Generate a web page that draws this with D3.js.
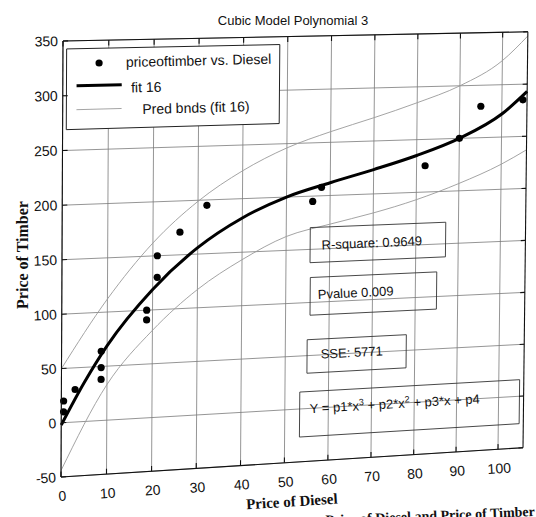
<!DOCTYPE html>
<html>
<head>
<meta charset="utf-8">
<script src="https://cdn.jsdelivr.net/npm/d3@7"></script>
<style>
  body { margin: 0; background: #fff; }
  text { font-family: "Liberation Sans", Arial, sans-serif; fill: #111; }
  .serif { font-family: "Liberation Serif", "Times New Roman", serif; font-weight: bold; }
</style>
</head>
<body>
<svg width="536" height="517"></svg>
<script>
// Values
const dieselPrice = [0.5, 0.5, 3, 8.7, 8.7, 8.7, 18.7, 18.7, 21, 21, 26, 32, 56, 58, 82, 90, 95, 105];
const timberPrice = [20, 10, 30, 64, 49, 38, 100, 91, 150, 130, 171, 195, 195, 208, 225, 250, 280, 285];

// fitted cubic (fit 16) and its prediction bounds
const fitX = [0, 5, 10, 20, 30, 40, 50, 60, 70, 80, 90, 100, 106];
const fitY = [-2, 36, 69, 119, 156, 182, 200, 212, 223, 235, 250, 272, 293];
const upperX = [0, 10, 20, 30, 40, 50, 60, 70, 80, 90, 100, 106];
const upperY = [50, 112, 162, 199, 226, 246, 260, 272, 285, 300, 323, 346];
const lowerX = [0, 10, 20, 30, 40, 50, 60, 70, 80, 90, 100, 106];
const lowerY = [-44, 33, 81, 117, 143, 163, 173, 182, 193, 207, 224, 237];

const xTicks = [0, 10, 20, 30, 40, 50, 60, 70, 80, 90, 100];
const yTicks = [-50, 0, 50, 100, 150, 200, 250, 300, 350];

const legendLabels = ['priceoftimber vs. Diesel', 'fit 16', 'Pred bnds (fit 16)'];
const statLabels = ['R-square: 0.9649', 'Pvalue 0.009', 'SSE: 5771'];

const svg = d3.select('svg');

// The figure was photographed at a slant, so the unit square of the axes
// is mapped onto the four measured corners of the printed plot box.
function squareToQuad(q)
{
    const [[x0, y0], [x1, y1], [x2, y2], [x3, y3]] = q;
    const dx1 = x1 - x2, dx2 = x3 - x2, dx3 = x0 - x1 + x2 - x3;
    const dy1 = y1 - y2, dy2 = y3 - y2, dy3 = y0 - y1 + y2 - y3;
    const den = dx1 * dy2 - dx2 * dy1;
    const g = (dx3 * dy2 - dx2 * dy3) / den;
    const h = (dx1 * dy3 - dx3 * dy1) / den;
    const a = x1 - x0 + g * x1, b = x3 - x0 + h * x3, c = x0;
    const d = y1 - y0 + g * y1, e = y3 - y0 + h * y3, f = y0;
    return function(u, v)
    {
        const w = g * u + h * v + 1;
        return [(a * u + b * v + c) / w, (d * u + e * v + f) / w];
    };
}

const xMax = 106;
const x = d3.scaleLinear().domain([0, 100]).range([0, 1]);
const y = d3.scaleLinear().domain([-50, 350]).range([0, 1]);
const warp = squareToQuad([[61, 477], [498, 449.3], [502.7, 32.3], [63, 41]]);
const P = (dx, dy) => warp(x(dx), y(dy));

function angleAt(dx, dy)
{
    const p = P(dx, dy), q = P(dx + 1, dy);
    return Math.atan2(q[1] - p[1], q[0] - p[0]) * 180 / Math.PI;
}

function place(dx, dy)
{
    const p = P(dx, dy);
    return 'translate(' + p[0] + ',' + p[1] + ') rotate(' + angleAt(dx, dy) + ')';
}

function seg(g, a, b)
{
    const p = P(a[0], a[1]), q = P(b[0], b[1]);
    return g.append('line')
        .attr('x1', p[0]).attr('y1', p[1])
        .attr('x2', q[0]).attr('y2', q[1]);
}

function quadPath(x0, x1, y0, y1)
{
    return 'M' + [P(x0, y0), P(x1, y0), P(x1, y1), P(x0, y1)].join('L') + 'Z';
}

// Grid
const grid = svg.append('g')
    .attr('stroke', '#7a7a7a')
    .attr('stroke-width', 0.8);
xTicks.forEach(t => seg(grid, [t, -50], [t, 350]));
yTicks.forEach(t => seg(grid, [0, t], [xMax, t]));

// Prediction bounds and fit
const line = d3.line().curve(d3.curveMonotoneX);

svg.append('path')
    .attr('d', line(upperX.map((v, i) => P(v, upperY[i]))))
    .attr('fill', 'none')
    .attr('stroke', '#9a9a9a')
    .attr('stroke-width', 0.9);

svg.append('path')
    .attr('d', line(lowerX.map((v, i) => P(v, lowerY[i]))))
    .attr('fill', 'none')
    .attr('stroke', '#9a9a9a')
    .attr('stroke-width', 0.9);

svg.append('path')
    .attr('d', line(fitX.map((v, i) => P(v, fitY[i]))))
    .attr('fill', 'none')
    .attr('stroke', '#000')
    .attr('stroke-width', 3);

svg.append('g')
    .selectAll('circle')
    .data(dieselPrice)
    .enter().append('circle')
    .attr('cx', (d, i) => P(d, timberPrice[i])[0])
    .attr('cy', (d, i) => P(d, timberPrice[i])[1])
    .attr('r', 3.6)
    .attr('fill', '#000');

// Text boxes with the goodness-of-fit numbers (no fill, grid shows through)
const boxes = [
    {x0: 55.5, x1: 87, y0: 137.5, y1: 170.5, tx: 58.2, ty: 149.5},
    {x0: 55.6, x1: 85, y0: 88, y1: 123.5, tx: 57.4, ty: 103},
    {x0: 55, x1: 78, y0: 33.4, y1: 65, tx: 58.2, ty: 46.5}
];

const notes = svg.append('g');
boxes.forEach(function(b, i)
{
    notes.append('path')
        .attr('d', quadPath(b.x0, b.x1, b.y0, b.y1))
        .attr('fill', 'none')
        .attr('stroke', '#333')
        .attr('stroke-width', 0.9);
    notes.append('text')
        .attr('transform', place(b.tx, b.ty))
        .style('font-size', '13px')
        .text(statLabels[i]);
});

notes.append('path')
    .attr('d', quadPath(53.4, 105, -26.5, 16))
    .attr('fill', 'none')
    .attr('stroke', '#333')
    .attr('stroke-width', 0.9);

const eq = notes.append('text')
    .attr('transform', place(55.8, -4.5))
    .style('font-size', '13px');
[['Y = p1*x', 0], ['3', -5], [' + p2*x', 5], ['2', -5], [' + p3*x + p4', 5]].forEach(function(part)
{
    eq.append('tspan')
        .attr('dy', part[1])
        .style('font-size', part[0].length == 1 ? '9px' : '13px')
        .text(part[0]);
});

// Legend
const legend = svg.append('g');
legend.append('path')
    .attr('d', quadPath(0.8, 48.2, 269, 342.7))
    .attr('fill', '#fff')
    .attr('stroke', '#222')
    .attr('stroke-width', 1);

const dot = P(7.9, 329.2);
legend.append('circle')
    .attr('cx', dot[0]).attr('cy', dot[1])
    .attr('r', 3.6)
    .attr('fill', '#000');
seg(legend, [3, 308.8], [12.9, 308.8])
    .attr('stroke', '#000')
    .attr('stroke-width', 3);
seg(legend, [3, 287], [12.9, 287])
    .attr('stroke', '#9a9a9a')
    .attr('stroke-width', 0.9);

[[13.8, 325], [15, 301.5], [17.5, 281.4]].forEach(function(pos, i)
{
    legend.append('text')
        .attr('transform', place(pos[0], pos[1]))
        .style('font-size', '14px')
        .text(legendLabels[i]);
});

// Axes box with inward ticks on all four sides
const frame = svg.append('g')
    .attr('stroke', '#111')
    .attr('stroke-width', 1.1);
seg(frame, [0, -50], [xMax, -50]);
seg(frame, [0, 350], [xMax, 350]);
seg(frame, [0, -50], [0, 350]);
seg(frame, [xMax, -50], [xMax, 350]);

xTicks.forEach(function(t)
{
    seg(frame, [t, -50], [t, -45]);
    seg(frame, [t, 350], [t, 345]);
});
yTicks.forEach(function(t)
{
    seg(frame, [0, t], [1.1, t]);
    seg(frame, [xMax, t], [xMax - 1.1, t]);
});

// Tick labels
svg.append('g')
    .selectAll('text')
    .data(xTicks)
    .enter().append('text')
    .attr('transform', d => place(d, -50))
    .attr('y', 19)
    .attr('dy', '0.35em')
    .style('text-anchor', 'middle')
    .style('font-size', '14px')
    .text(d => d);

svg.append('g')
    .selectAll('text')
    .data(yTicks)
    .enter().append('text')
    .attr('transform', d => place(0, d))
    .attr('x', -5)
    .attr('dy', '0.35em')
    .style('text-anchor', 'end')
    .style('font-size', '14px')
    .text(d => d);

// Titles
svg.append('text')
    .attr('x', 293)
    .attr('y', 25)
    .style('text-anchor', 'middle')
    .style('font-size', '13px')
    .text('Cubic Model Polynomial 3');

svg.append('text')
    .attr('class', 'serif')
    .attr('transform', place(50, -50))
    .attr('x', 5)
    .attr('y', 44)
    .style('text-anchor', 'middle')
    .style('font-size', '15px')
    .text('Price of Diesel');

svg.append('text')
    .attr('class', 'serif')
    .attr('transform', 'translate(28,255) rotate(-90)')
    .style('text-anchor', 'middle')
    .style('font-size', '16px')
    .text('Price of Timber');

// figure caption, only its top edge falls inside the photographed area
svg.append('text')
    .attr('class', 'serif')
    .attr('transform', 'translate(535,516) rotate(-2.4)')
    .style('text-anchor', 'end')
    .style('font-size', '14px')
    .text('Figure 4: Relationship between Price of Diesel and Price of Timber');
</script>
</body>
</html>
